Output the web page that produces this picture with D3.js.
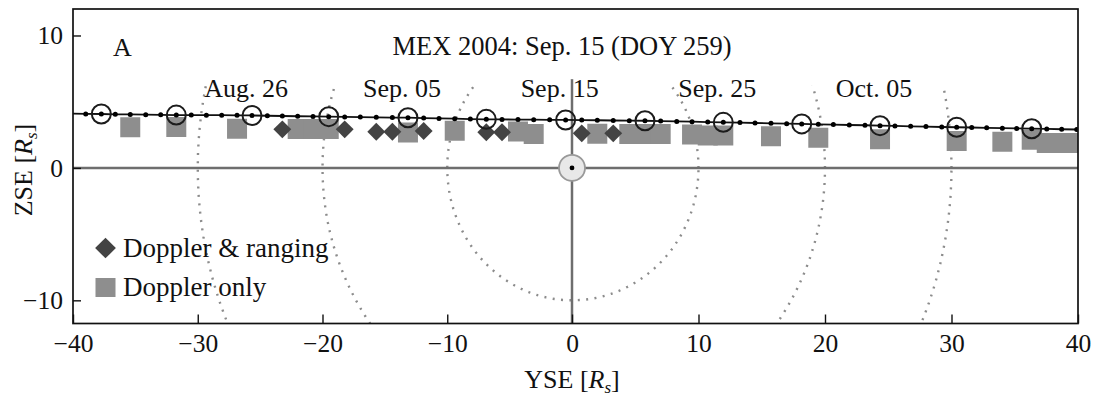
<!DOCTYPE html>
<html>
<head>
<meta charset="utf-8">
<script src="https://cdn.jsdelivr.net/npm/d3@7"></script>
<style>
body { margin: 0; background: #fff; }
text { font-family: "Liberation Serif", "Times New Roman", serif; fill: #111; }
</style>
</head>
<body>
<script>
// daily MEX positions, solar radii (YSE, ZSE)
var dayYse = [-40.20,-38.98,-37.73,-36.61,-35.41,-34.17,-32.97,-31.72,-30.52,-29.31,-28.08,-26.85,-25.65,-24.42,-23.22,-21.99,-20.76,-19.50,-18.22,-16.97,-15.69,-14.40,-13.15,-11.89,-10.66,-9.40,-8.15,-6.87,-5.61,-4.33,-3.07,-1.79,-0.51,0.77,2.00,3.26,4.53,5.77,7.01,8.28,9.49,10.73,11.96,13.28,14.47,15.73,16.97,18.16,19.47,20.66,21.92,23.16,24.35,25.53,26.77,27.98,29.23,30.41,31.60,32.78,34.02,35.15,36.34,37.53,38.71,39.90,41.08];
var dayZse = [4.10,4.08,4.07,4.05,4.04,4.02,4.01,3.99,3.99,3.98,3.98,3.97,3.96,3.94,3.92,3.90,3.89,3.87,3.85,3.84,3.82,3.80,3.79,3.76,3.74,3.72,3.69,3.67,3.66,3.65,3.64,3.63,3.62,3.61,3.60,3.58,3.57,3.56,3.54,3.51,3.49,3.46,3.44,3.42,3.39,3.37,3.34,3.32,3.29,3.27,3.24,3.22,3.19,3.17,3.14,3.12,3.09,3.07,3.05,3.03,3.00,2.98,2.96,2.94,2.92,2.90,2.88];
// every fifth day gets an open circle
var circleDays = [2,7,12,17,22,27,32,37,42,47,52,57,62];
var labelDays = [12,22,32,42,52];
var labelText = ['Aug. 26','Sep. 05','Sep. 15','Sep. 25','Oct. 05'];

// Doppler only tracking
var dopYse = [-35.41,-31.72,-26.85,-21.99,-20.76,-19.50,-13.15,-9.40,-4.33,-3.07,2.00,4.53,5.77,7.01,9.49,10.73,11.96,15.73,19.47,24.35,30.41,34.02,36.34,37.53,38.71,39.90];
var dopZse = [3.07,3.09,2.96,2.94,2.94,2.94,2.67,2.81,2.75,2.56,2.58,2.56,2.56,2.56,2.52,2.45,2.45,2.39,2.27,2.17,2.03,1.98,2.13,1.88,1.88,1.88];
// Doppler & ranging
var rngYse = [-23.22,-18.22,-15.69,-14.40,-11.89,-6.87,-5.61,0.77,3.26];
var rngZse = [2.91,2.91,2.73,2.73,2.79,2.69,2.69,2.61,2.61];

var distRadii = [10,20,30];
var xTicks = [-40,-30,-20,-10,0,10,20,30,40];
var yTicks = [-10,0,10];

var W = 1094, H = 399;
var x = d3.scaleLinear().domain([-40,0,40]).range([73,572,1078]);
var y = d3.scaleLinear().domain([-11.75,12]).range([323.5,9]);

var svg = d3.select('body').append('svg').attr('width',W).attr('height',H);
var defs = svg.append('defs');
defs.append('clipPath').attr('id','plot').append('rect')
    .attr('x',x(-40)).attr('y',y(12)).attr('width',x(40)-x(-40)).attr('height',y(-11.75)-y(12));
defs.append('clipPath').attr('id','arcs').append('rect')
    .attr('x',x(-40)).attr('y',y(6.2)).attr('width',x(40)-x(-40)).attr('height',y(-11.75)-y(6.2));

// dotted distance circles round the Sun
var angles = d3.range(0,362,2);
var circLine = d3.line().x(function(d){return x(d[0]);}).y(function(d){return y(d[1]);});
svg.append('g').attr('clip-path','url(#arcs)')
  .selectAll('path').data(distRadii).enter().append('path')
    .attr('d', function(r){
        return circLine(angles.map(function(a){ var t=a*Math.PI/180; return [r*Math.cos(t), r*Math.sin(t)]; }));
    })
    .attr('fill','none').attr('stroke','#8c8c8c').attr('stroke-width',2.4)
    .attr('stroke-dasharray','2 6.4');

// Sun-Earth lines
svg.append('line').attr('x1',x(-40)).attr('x2',x(40)).attr('y1',y(0)).attr('y2',y(0))
    .attr('stroke','#6e6e6e').attr('stroke-width',2.5);
svg.append('line').attr('x1',x(0)).attr('x2',x(0)).attr('y1',y(6.7)).attr('y2',y(-11.75))
    .attr('stroke','#6e6e6e').attr('stroke-width',2.5);

var marks = svg.append('g').attr('clip-path','url(#plot)');

marks.selectAll('path.dop').data(dopYse).enter().append('path').attr('class','dop')
    .attr('d', d3.symbol(d3.symbolSquare, 400))
    .attr('fill','#8e8e8e')
    .attr('transform', function(d,i){ return 'translate(' + x(d) + ',' + y(dopZse[i]) + ')'; });

marks.selectAll('path.rng').data(rngYse).enter().append('path').attr('class','rng')
    .attr('d', d3.symbol(d3.symbolSquare, 160))
    .attr('fill','#434343')
    .attr('transform', function(d,i){ return 'translate(' + x(d) + ',' + y(rngZse[i]) + ') rotate(45)'; });

// trajectory
var traj = d3.line().x(function(d,i){return x(d);}).y(function(d,i){return y(dayZse[i]);});
marks.append('path').attr('d', traj(dayYse))
    .attr('fill','none').attr('stroke','#111').attr('stroke-width',1.8);
marks.selectAll('circle.day').data(dayYse).enter().append('circle').attr('class','day')
    .attr('cx', function(d){return x(d);})
    .attr('cy', function(d,i){return y(dayZse[i]);})
    .attr('r',2.5).attr('fill','#000');
marks.selectAll('circle.ring').data(circleDays).enter().append('circle').attr('class','ring')
    .attr('cx', function(d){return x(dayYse[d]);})
    .attr('cy', function(d){return y(dayZse[d]);})
    .attr('r',9.5).attr('fill','none').attr('stroke','#1c1c1c').attr('stroke-width',2);

// Sun
svg.append('circle').attr('cx',x(0)).attr('cy',y(0)).attr('r',13)
    .attr('fill','#e8e8e8').attr('stroke','#999').attr('stroke-width',1.8);
svg.append('circle').attr('cx',x(0)).attr('cy',y(0)).attr('r',2.4).attr('fill','#000');

// date labels
svg.selectAll('text.date').data(labelDays).enter().append('text').attr('class','date')
    .attr('x', function(d){return x(dayYse[d]) - 6;})
    .attr('y', 97)
    .attr('text-anchor','middle').attr('font-size',26)
    .text(function(d,i){return labelText[i];});

svg.append('text').attr('x',562).attr('y',55).attr('text-anchor','middle').attr('font-size',26.5)
    .text('MEX 2004: Sep. 15 (DOY 259)');
svg.append('text').attr('x',113).attr('y',56).attr('font-size',26).text('A');

// axes
var gx = svg.append('g').attr('transform','translate(0,' + y(-11.75) + ')')
    .call(d3.axisBottom(x).tickValues(xTicks).tickSizeInner(-9).tickSizeOuter(0).tickPadding(10));
var gy = svg.append('g').attr('transform','translate(' + x(-40) + ',0)')
    .call(d3.axisLeft(y).tickValues(yTicks).tickSizeInner(-8).tickSizeOuter(0).tickPadding(10));
[gx, gy].forEach(function(g){
    g.select('.domain').remove();
    g.attr('font-family',null).attr('font-size',null);
    g.selectAll('text').attr('font-size',25.5).attr('fill','#111');
    g.selectAll('line').attr('stroke','#111').attr('stroke-width',1.4);
});

svg.append('rect').attr('x',x(-40)).attr('y',y(12))
    .attr('width',x(40)-x(-40)).attr('height',y(-11.75)-y(12))
    .attr('fill','none').attr('stroke','#111').attr('stroke-width',1.7);

// axis titles
var xt = svg.append('text').attr('x',572).attr('y',388).attr('text-anchor','middle').attr('font-size',26);
xt.append('tspan').text('YSE [');
xt.append('tspan').attr('font-style','italic').text('R');
xt.append('tspan').attr('font-style','italic').attr('font-size',17).attr('dy',5).text('s');
xt.append('tspan').attr('dy',-5).text(']');

var yt = svg.append('text').attr('transform','translate(32,170) rotate(-90)')
    .attr('text-anchor','middle').attr('font-size',26);
yt.append('tspan').text('ZSE [');
yt.append('tspan').attr('font-style','italic').text('R');
yt.append('tspan').attr('font-style','italic').attr('font-size',17).attr('dy',5).text('s');
yt.append('tspan').attr('dy',-5).text(']');

// legend
var leg = svg.append('g');
leg.append('path').attr('d', d3.symbol(d3.symbolSquare, 215))
    .attr('fill','#434343').attr('transform','translate(105.5,248) rotate(45)');
leg.append('rect').attr('x',95.5).attr('y',278).attr('width',20).attr('height',19).attr('fill','#8e8e8e');
leg.append('text').attr('x',123).attr('y',257).attr('font-size',27).text('Doppler & ranging');
leg.append('text').attr('x',123).attr('y',296).attr('font-size',27).text('Doppler only');
</script>
</body>
</html>
